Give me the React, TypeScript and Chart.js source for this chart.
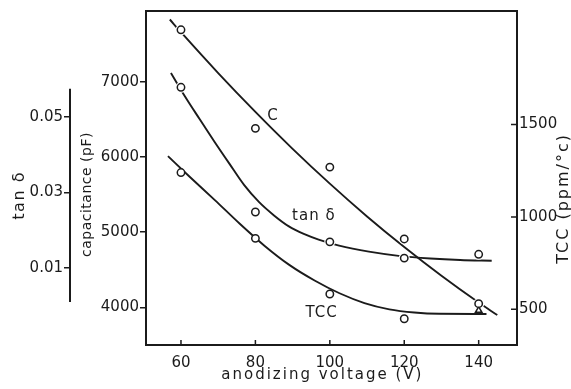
import React, { useEffect, useRef } from "react";
import { Chart, registerables } from "chart.js";

Chart.register(...registerables);

// ---- axis ticks ----
const voltageTicks = [60, 80, 100, 120, 140];
const capacitanceTicks = [4000, 5000, 6000, 7000];
const tanDeltaTicks = [0.01, 0.03, 0.05];
const tccTicks = [500, 1000, 1500];

// ---- axis ranges ----
const voltageRange = [50.6, 150.3];
const capacitanceRange = [3500, 7940];
const tanDeltaRange = [-0.0104, 0.078];
const tccRange = [307, 2114];
const tanAxisLineRange = [0.001, 0.0574];

// ---- measured points ----
const voltages = [60, 80, 100, 120, 140];
const capacitanceMeasured = [7690, 6380, 5865, 4910, 4050];
const tanDeltaMeasured = [0.0578, 0.0248, 0.0169, 0.0126, 0.0136];
const tccMeasured = [1240, 884, 583, 449, 494];
const tccMarkerStyles = ["circle", "circle", "circle", "circle", "triangle"];

// ---- fitted curves ----
const capacitanceCurveV = [57, 60, 70, 80, 90, 100, 110, 120, 130, 140, 145];
const capacitanceCurve = [7827, 7658, 7115, 6599, 6108, 5645, 5209, 4802, 4420, 4064, 3898];
const tanDeltaCurveV = [57.3, 61, 65, 69, 73, 77, 81, 85, 89, 93, 97, 102.5, 110.5, 118.5, 127, 135, 143.5];
const tanDeltaCurve = [0.0616, 0.0555, 0.0494, 0.0434, 0.0376, 0.0319, 0.0274, 0.0239, 0.021, 0.019, 0.0175, 0.0159, 0.0143, 0.0132, 0.0125, 0.0121, 0.0119];
const tccCurveV = [56.5, 62.4, 69.1, 75.8, 82.5, 89.2, 95.9, 102.6, 109.3, 116, 122.7, 129.4, 142.1];
const tccCurve = [1329, 1216, 1091, 963, 843, 739, 656, 587, 534, 500, 483, 476, 475];

// ---- curve labels (data coordinates) ----
const curveLabelTexts = ["C", "tan δ", "TCC"];
const curveLabelAxes = ["yCap", "yTan", "yTcc"];
const curveLabelV = [84.7, 95.7, 97.8];
const curveLabelY = [6540, 0.0237, 478];

const INK = "#1b1b1b";
const FONT = "'DejaVu Sans', sans-serif";

const pts = (xs: number[], ys: number[]) => xs.map((x, i) => ({ x, y: ys[i] }));

function drawText(ctx: CanvasRenderingContext2D, text: string, x: number, y: number, size: number, rot: number, spacing: number) {
  ctx.save();
  ctx.translate(x, y);
  ctx.rotate(rot);
  ctx.font = `${size}px ${FONT}`;
  (ctx as any).letterSpacing = `${spacing}px`;
  ctx.fillStyle = INK;
  ctx.textAlign = "center";
  ctx.textBaseline = "middle";
  ctx.fillText(text, 0, 0);
  ctx.restore();
}

const decorPlugin = {
  id: "decor",
  afterDraw(chart: any) {
    const { ctx, chartArea: a, scales } = chart;
    const x = scales.x, cap = scales.yCap, tan = scales.yTan, tcc = scales.yTcc;
    ctx.save();
    ctx.strokeStyle = INK;
    ctx.lineWidth = 2;
    ctx.strokeRect(a.left, a.top, a.right - a.left, a.bottom - a.top);
    ctx.lineWidth = 1.5;
    ctx.beginPath();
    for (const v of voltageTicks) {
      const px = x.getPixelForValue(v);
      ctx.moveTo(px, a.bottom);
      ctx.lineTo(px, a.bottom - 5);
    }
    for (const v of tccTicks) {
      const py = tcc.getPixelForValue(v);
      ctx.moveTo(a.right, py);
      ctx.lineTo(a.right - 6, py);
    }
    ctx.stroke();
    ctx.lineWidth = 2;
    ctx.beginPath();
    ctx.moveTo(tan.right, tan.getPixelForValue(tanAxisLineRange[1]));
    ctx.lineTo(tan.right, tan.getPixelForValue(tanAxisLineRange[0]));
    ctx.stroke();
    ctx.restore();

    const tanMid = (tan.getPixelForValue(tanAxisLineRange[0]) + tan.getPixelForValue(tanAxisLineRange[1])) / 2;
    drawText(ctx, "tan δ", tan.left + 20, tanMid, 16, -Math.PI / 2, 1.5);
    const capMid = (cap.getPixelForValue(capacitanceTicks[0]) + cap.getPixelForValue(capacitanceTicks[capacitanceTicks.length - 1])) / 2;
    drawText(ctx, "capacitance (pF)", cap.left + 17, capMid, 14, -Math.PI / 2, 0.5);
    drawText(ctx, "TCC (ppm/°c)", tcc.right - 7, tcc.getPixelForValue(1100), 16, -Math.PI / 2, 2);
    drawText(ctx, "anodizing voltage (V)", x.getPixelForValue(98), x.top + 30, 15, 0, 2);

    curveLabelTexts.forEach((t, i) => {
      const s = scales[curveLabelAxes[i]];
      drawText(ctx, t, x.getPixelForValue(curveLabelV[i]), s.getPixelForValue(curveLabelY[i]), 15, 0, 1);
    });
  },
};

const fixedTicks = (list: number[]) => (scale: any) => {
  scale.ticks = list.map((value) => ({ value }));
};

export default function App() {
  const ref = useRef<HTMLCanvasElement>(null);
  useEffect(() => {
    if (!ref.current) return;
    const marker = { pointRadius: 3.7, pointBorderWidth: 1.5, pointBackgroundColor: "#ffffff", pointBorderColor: INK, showLine: false };
    const halo = { pointRadius: 5.5, pointBorderWidth: 0, pointBackgroundColor: "#ffffff", pointBorderColor: "#ffffff", showLine: false };
    const curve = { pointRadius: 0, borderWidth: 1.9, borderColor: INK, showLine: true, cubicInterpolationMode: "monotone" as const, fill: false };
    const chart = new Chart(ref.current, {
      type: "scatter",
      data: {
        datasets: [
          { ...marker, label: "C points", data: pts(voltages, capacitanceMeasured), yAxisID: "yCap" },
          { ...marker, label: "tan points", data: pts(voltages, tanDeltaMeasured), yAxisID: "yTan" },
          { ...marker, label: "TCC points", data: pts(voltages, tccMeasured), yAxisID: "yTcc", pointStyle: tccMarkerStyles as any },
          { ...halo, label: "C halo", data: pts(voltages, capacitanceMeasured), yAxisID: "yCap" },
          { ...halo, label: "tan halo", data: pts(voltages, tanDeltaMeasured), yAxisID: "yTan" },
          { ...curve, label: "C", data: pts(capacitanceCurveV, capacitanceCurve), yAxisID: "yCap" },
          { ...curve, label: "tan δ", data: pts(tanDeltaCurveV, tanDeltaCurve), yAxisID: "yTan" },
          { ...curve, label: "TCC", data: pts(tccCurveV, tccCurve), yAxisID: "yTcc" },
        ] as any,
      },
      options: {
        animation: false,
        responsive: true,
        maintainAspectRatio: false,
        layout: { padding: { top: 6, left: 0, right: 0, bottom: 0 } },
        plugins: { legend: { display: false }, tooltip: { enabled: false } },
        scales: {
          x: {
            type: "linear",
            position: "bottom",
            min: voltageRange[0],
            max: voltageRange[1],
            afterBuildTicks: fixedTicks(voltageTicks),
            afterFit: (s: any) => { s.height = 44; },
            grid: { display: false, drawTicks: false },
            border: { display: false },
            ticks: { color: INK, font: { family: FONT, size: 15 }, padding: 9, maxRotation: 0, callback: (v: any) => String(v) },
          },
          yCap: {
            type: "linear",
            position: "left",
            weight: 0,
            min: capacitanceRange[0],
            max: capacitanceRange[1],
            afterBuildTicks: fixedTicks(capacitanceTicks),
            afterFit: (s: any) => { s.width = 76; },
            grid: { display: true, drawOnChartArea: false, drawTicks: true, tickLength: 6, color: INK, lineWidth: 1.5 },
            border: { display: false },
            ticks: { color: INK, font: { family: FONT, size: 15 }, padding: 1, callback: (v: any) => String(v) },
          },
          yTan: {
            type: "linear",
            position: "left",
            weight: 1,
            min: tanDeltaRange[0],
            max: tanDeltaRange[1],
            afterBuildTicks: fixedTicks(tanDeltaTicks),
            afterFit: (s: any) => { s.width = 70; },
            grid: { display: true, drawOnChartArea: false, drawTicks: true, tickLength: 6, color: INK, lineWidth: 1.5 },
            border: { display: false },
            ticks: { color: INK, font: { family: FONT, size: 15 }, padding: 1, callback: (v: any) => Number(v).toFixed(2) },
          },
          yTcc: {
            type: "linear",
            position: "right",
            min: tccRange[0],
            max: tccRange[1],
            afterBuildTicks: fixedTicks(tccTicks),
            afterFit: (s: any) => { s.width = 54; },
            grid: { display: false, drawTicks: false },
            border: { display: false },
            ticks: { color: INK, font: { family: FONT, size: 15 }, padding: 2, callback: (v: any) => String(v) },
          },
        },
      } as any,
      plugins: [decorPlugin],
    });
    return () => chart.destroy();
  }, []);
  return (
    <div style={{ position: "fixed", left: 0, top: 0, width: 571, height: 389, background: "#ffffff" }}>
      <canvas ref={ref} />
    </div>
  );
}
